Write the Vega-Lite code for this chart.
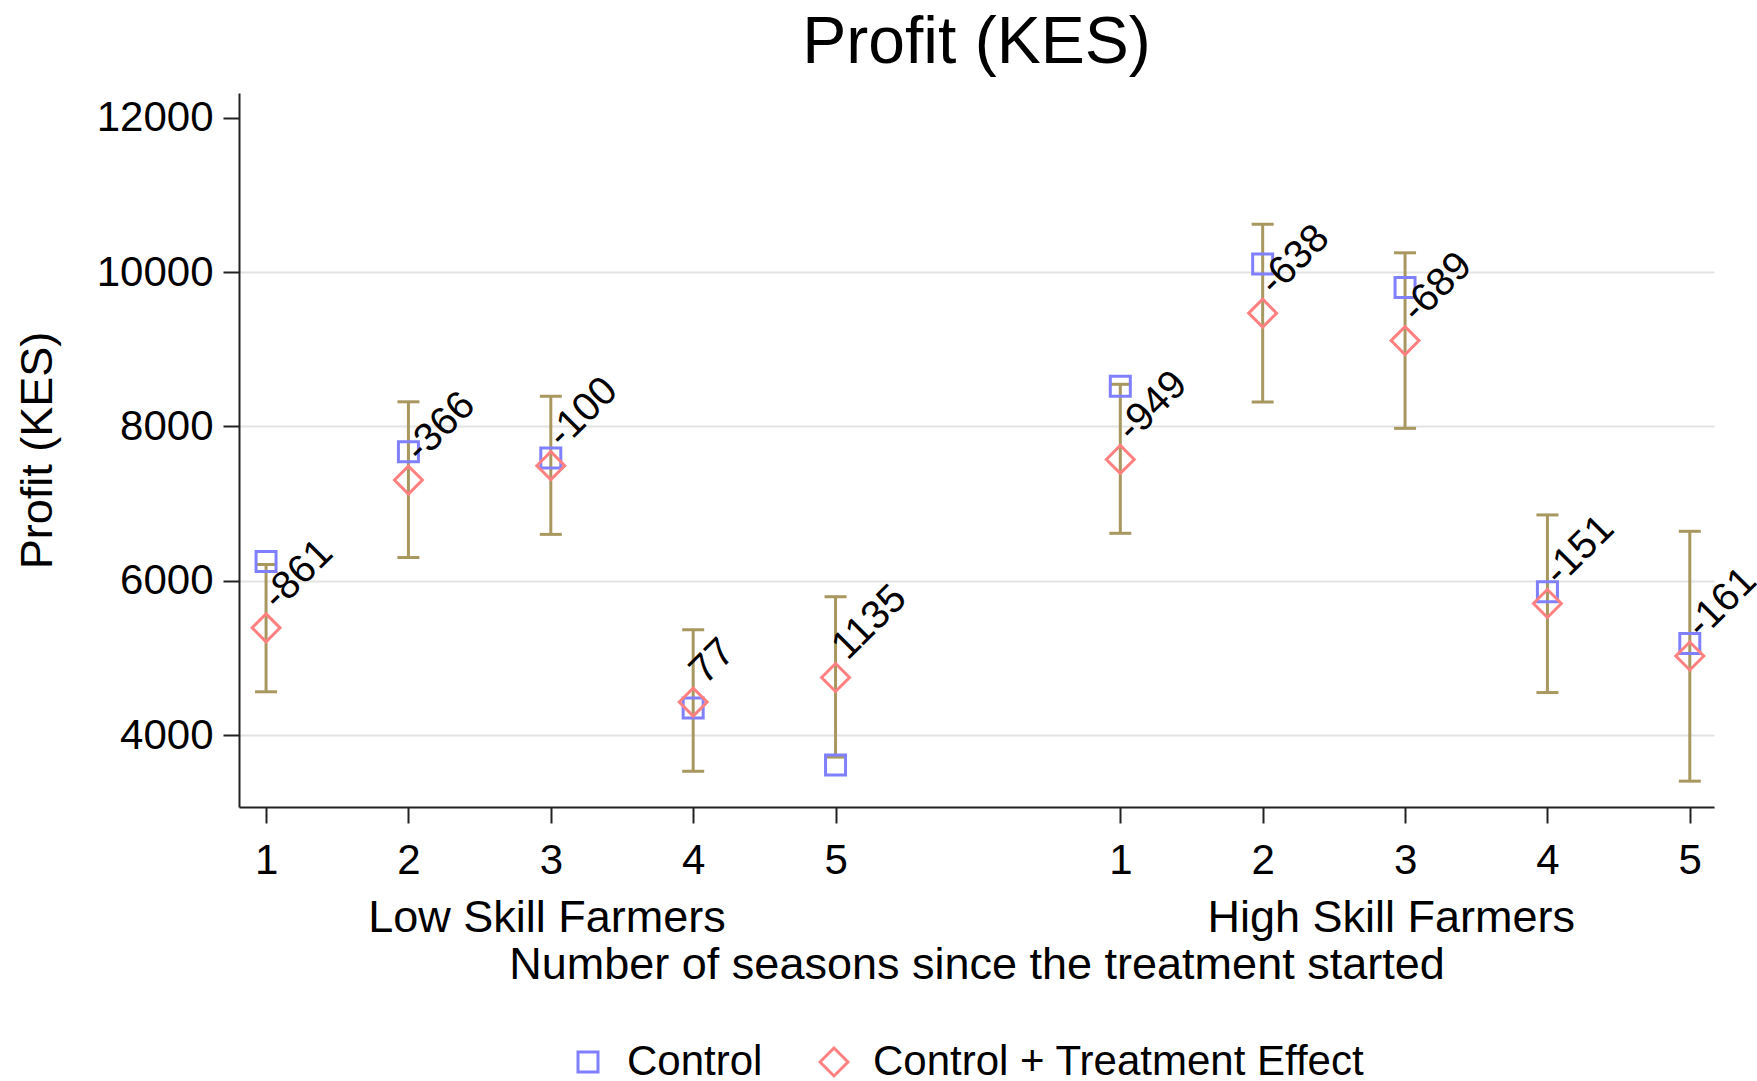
{
  "$schema": "https://vega.github.io/schema/vega-lite/v6.json",
  "width": 1475,
  "height": 714,
  "autosize": {"type": "none"},
  "padding": {"left": 239, "top": 93, "right": 43, "bottom": 274},
  "background": "white",
  "title": {"text": "Profit (KES)", "fontSize": 66, "font": "Liberation Sans", "fontWeight": "normal", "color": "#000000", "anchor": "middle", "frame": "group", "offset": -36, "baseline": "alphabetic"},
  "config": {
    "view": {"stroke": null},
    "font": "Liberation Sans",
    "axis": {
      "domainColor": "#222222",
      "domainWidth": 2,
      "tickColor": "#222222",
      "tickWidth": 2,
      "tickSize": 16,
      "labelFont": "Liberation Sans",
      "labelFontSize": 42,
      "labelColor": "#000000",
      "labelLimit": 0,
      "titleFont": "Liberation Sans",
      "titleFontSize": 45,
      "titleFontWeight": "normal",
      "titleColor": "#000000",
      "titleLimit": 0,
      "gridColor": "#e3e3e3",
      "gridWidth": 2
    },
    "legend": {
      "labelFont": "Liberation Sans",
      "labelFontSize": 42,
      "labelColor": "#000000",
      "labelLimit": 0
    }
  },
  "datasets": {
    "est": [
      {"group": "Low Skill Farmers", "season": 1, "pos": 1, "control": 6250, "treated": 5389, "lo": 4560, "hi": 6210, "label": "-861"},
      {"group": "Low Skill Farmers", "season": 2, "pos": 2, "control": 7670, "treated": 7304, "lo": 6300, "hi": 8318, "label": "-366"},
      {"group": "Low Skill Farmers", "season": 3, "pos": 3, "control": 7590, "treated": 7490, "lo": 6600, "hi": 8390, "label": "-100"},
      {"group": "Low Skill Farmers", "season": 4, "pos": 4, "control": 4350, "treated": 4427, "lo": 3530, "hi": 5364, "label": "77"},
      {"group": "Low Skill Farmers", "season": 5, "pos": 5, "control": 3610, "treated": 4745, "lo": 3714, "hi": 5792, "label": "1135"},
      {"group": "High Skill Farmers", "season": 1, "pos": 7, "control": 8520, "treated": 7571, "lo": 6614, "hi": 8545, "label": "-949"},
      {"group": "High Skill Farmers", "season": 2, "pos": 8, "control": 10105, "treated": 9467, "lo": 8317, "hi": 10619, "label": "-638"},
      {"group": "High Skill Farmers", "season": 3, "pos": 9, "control": 9800, "treated": 9111, "lo": 7974, "hi": 10249, "label": "-689"},
      {"group": "High Skill Farmers", "season": 4, "pos": 10, "control": 5855, "treated": 5704, "lo": 4550, "hi": 6852, "label": "-151"},
      {"group": "High Skill Farmers", "season": 5, "pos": 11, "control": 5185, "treated": 5024, "lo": 3402, "hi": 6640, "label": "-161"}
    ],
    "pts": [
      {"pos": 1, "series": "Control", "value": 6250},
      {"pos": 2, "series": "Control", "value": 7670},
      {"pos": 3, "series": "Control", "value": 7590},
      {"pos": 4, "series": "Control", "value": 4350},
      {"pos": 5, "series": "Control", "value": 3610},
      {"pos": 7, "series": "Control", "value": 8520},
      {"pos": 8, "series": "Control", "value": 10105},
      {"pos": 9, "series": "Control", "value": 9800},
      {"pos": 10, "series": "Control", "value": 5855},
      {"pos": 11, "series": "Control", "value": 5185},
      {"pos": 1, "series": "Control + Treatment Effect", "value": 5389},
      {"pos": 2, "series": "Control + Treatment Effect", "value": 7304},
      {"pos": 3, "series": "Control + Treatment Effect", "value": 7490},
      {"pos": 4, "series": "Control + Treatment Effect", "value": 4427},
      {"pos": 5, "series": "Control + Treatment Effect", "value": 4745},
      {"pos": 7, "series": "Control + Treatment Effect", "value": 7571},
      {"pos": 8, "series": "Control + Treatment Effect", "value": 9467},
      {"pos": 9, "series": "Control + Treatment Effect", "value": 9111},
      {"pos": 10, "series": "Control + Treatment Effect", "value": 5704},
      {"pos": 11, "series": "Control + Treatment Effect", "value": 5024}
    ]
  },
  "resolve": {"axis": {"x": "independent"}},
  "layer": [
    {
      "data": {"name": "est"},
      "mark": {"type": "rule", "color": "#a89860", "strokeWidth": 3},
      "encoding": {
        "x": {
          "field": "pos", "type": "quantitative",
          "scale": {"domain": [0.81, 11.17], "nice": false, "zero": false},
          "axis": {
            "orient": "bottom",
            "title": null,
            "values": [1, 2, 3, 4, 5, 7, 8, 9, 10, 11],
            "labelExpr": "datum.value > 6 ? '' + (datum.value - 6) : '' + datum.value",
            "labelOverlap": false,
            "labelFlush": false,
            "labelPadding": 17,
            "grid": false
          }
        },
        "y": {
          "field": "lo", "type": "quantitative",
          "scale": {"domain": [3067, 12320], "nice": false, "zero": false},
          "axis": {
            "title": "Profit (KES)",
            "values": [4000, 6000, 8000, 10000, 12000],
            "format": "d",
            "grid": true,
            "gridOpacity": {"condition": {"test": "datum.value == 12000", "value": 0}, "value": 1},
            "labelPadding": 10,
            "titlePadding": 36
          }
        },
        "y2": {"field": "hi"}
      }
    },
    {
      "data": {"name": "est"},
      "mark": {"type": "tick", "orient": "horizontal", "color": "#a89860", "size": 22, "thickness": 3, "opacity": 1},
      "encoding": {
        "x": {
          "field": "pos", "type": "quantitative",
          "axis": {
            "orient": "bottom",
            "title": "Number of seasons since the treatment started",
            "values": [2.97, 8.9],
            "labelExpr": "datum.value < 6 ? 'Low Skill Farmers' : 'High Skill Farmers'",
            "labelFontSize": 45,
            "labelBaseline": "middle",
            "domain": false,
            "ticks": false,
            "tickSize": 0,
            "labelPadding": 110,
            "labelOverlap": false,
            "labelFlush": false,
            "titlePadding": 2,
            "grid": false
          }
        },
        "y": {"field": "lo", "type": "quantitative"}
      }
    },
    {
      "data": {"name": "est"},
      "mark": {"type": "tick", "orient": "horizontal", "color": "#a89860", "size": 22, "thickness": 3, "opacity": 1},
      "encoding": {
        "x": {"field": "pos", "type": "quantitative", "axis": null},
        "y": {"field": "hi", "type": "quantitative"}
      }
    },
    {
      "data": {"name": "pts"},
      "mark": {"type": "point", "filled": false, "strokeWidth": 3, "opacity": 1},
      "encoding": {
        "x": {"field": "pos", "type": "quantitative", "axis": null},
        "y": {"field": "value", "type": "quantitative"},
        "shape": {"field": "series", "type": "nominal", "scale": {"domain": ["Control", "Control + Treatment Effect"], "range": ["square", "diamond"]}, "legend": {"title": null, "orient": "none", "legendX": 328, "legendY": 948, "direction": "horizontal", "columnPadding": 50, "labelOffset": 18, "symbolStrokeWidth": 3}},
        "color": {"field": "series", "type": "nominal", "scale": {"domain": ["Control", "Control + Treatment Effect"], "range": ["#8080ff", "#ff8080"]}, "legend": {"title": null, "orient": "none", "legendX": 328, "legendY": 948, "direction": "horizontal", "columnPadding": 50, "labelOffset": 18, "symbolStrokeWidth": 3}},
        "size": {"field": "series", "type": "nominal", "scale": {"domain": ["Control", "Control + Treatment Effect"], "range": [400, 780]}, "legend": {"title": null, "orient": "none", "legendX": 328, "legendY": 948, "direction": "horizontal", "columnPadding": 50, "labelOffset": 18, "symbolStrokeWidth": 3}}
      }
    },
    {
      "data": {"name": "est"},
      "mark": {"type": "text", "angle": -45, "align": "left", "baseline": "middle", "dx": 20, "dy": -15, "fontSize": 40, "font": "Liberation Sans", "color": "#000000"},
      "encoding": {
        "x": {"field": "pos", "type": "quantitative", "axis": null},
        "y": {"field": "treated", "type": "quantitative"},
        "text": {"field": "label"}
      }
    }
  ]
}
